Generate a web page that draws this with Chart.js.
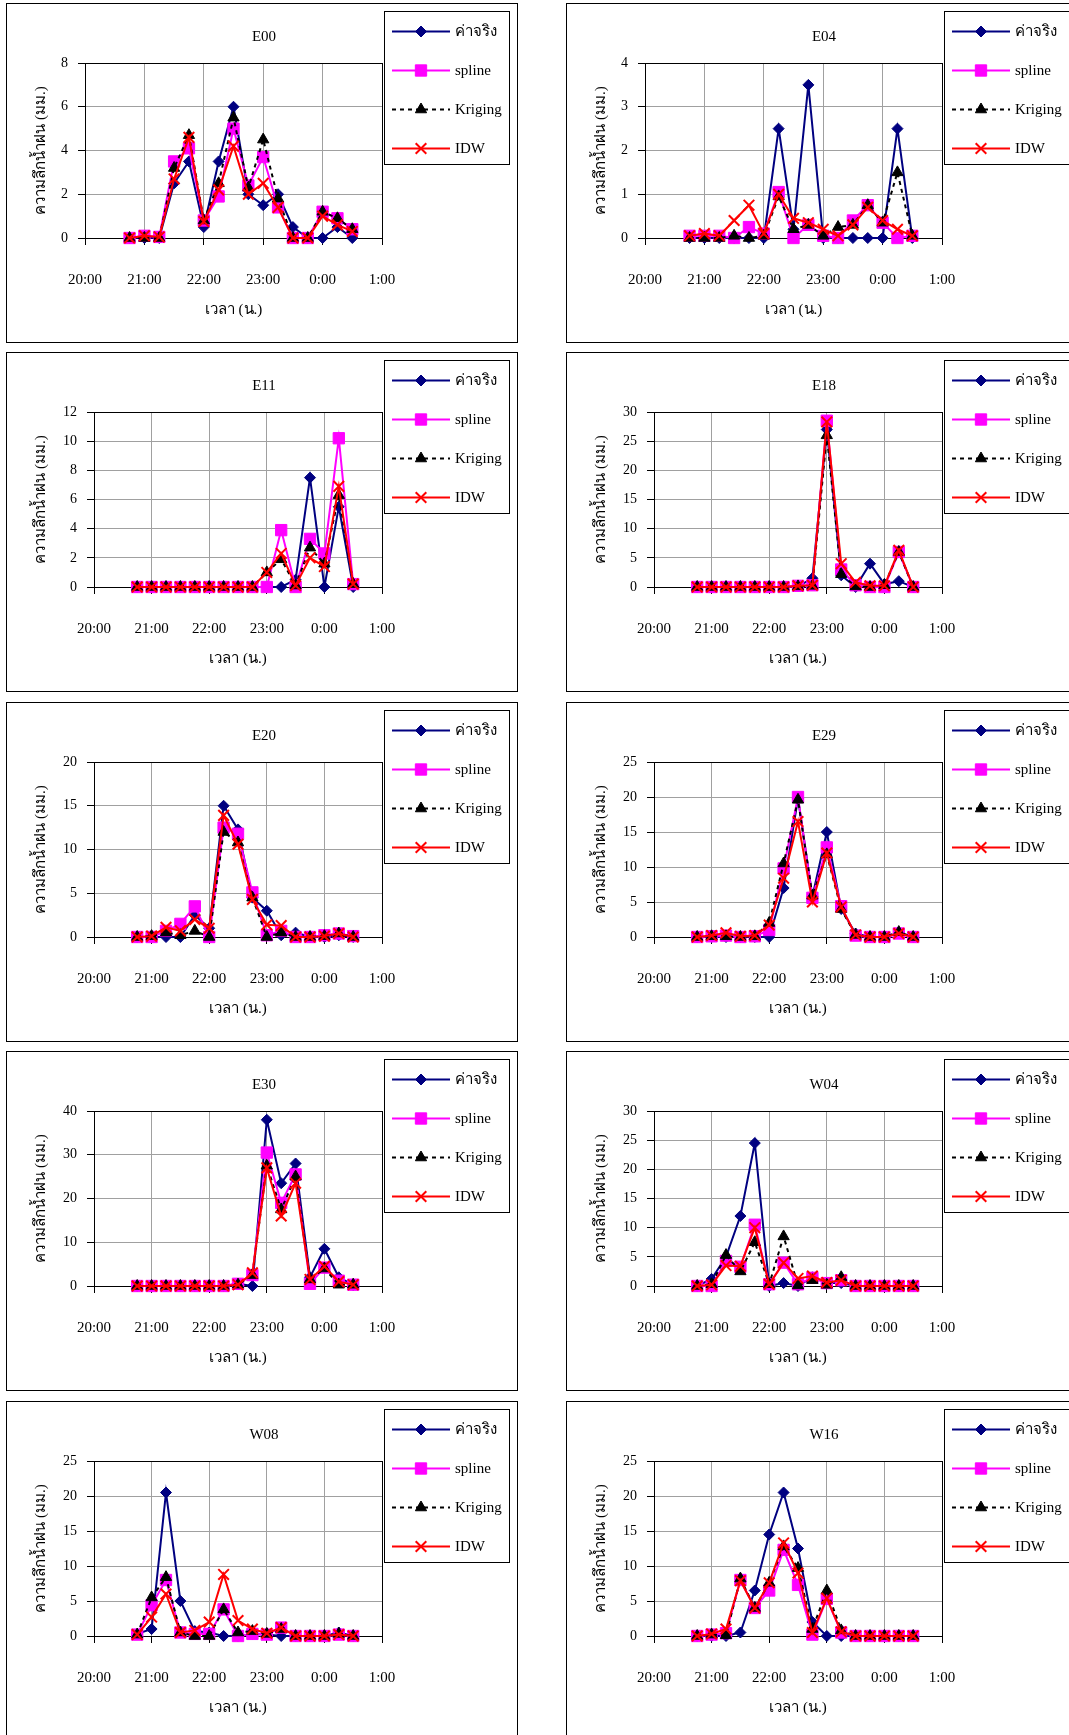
<!DOCTYPE html>
<html>
<head>
<meta charset="utf-8">
<script src="https://cdn.jsdelivr.net/npm/chart.js@4.4.0/dist/chart.umd.min.js"></script>
<style>
html, body { margin: 0; padding: 0; background: #fff; }
body { width: 1069px; height: 1735px; position: relative; overflow: hidden; }
.panel { position: absolute; width: 512px; height: 340px; border: 1px solid #000; box-sizing: border-box; background: #fff; }
.panel canvas { display: block; }
</style>
</head>
<body>
<script>
// เวลา (ทุก 15 นาที) และป้ายแกน x
const times = ['20:45','21:00','21:15','21:30','21:45','22:00','22:15','22:30','22:45','23:00','23:15','23:30','23:45','0:00','0:15','0:30']
const hourLabels = ['20:00','21:00','22:00','23:00','0:00','1:00']
const seriesNames = ['ค่าจริง','spline','Kriging','IDW']
const stationNames = ['E00','E04','E11','E18','E20','E29','E30','W04','W08','W16']
const yMaxes = [8, 4, 12, 30, 20, 25, 40, 30, 25, 25]
const ySteps = [2, 1, 2, 5, 5, 5, 10, 5, 5, 5]

// E00
const e00Obs    = [0,0,0,2.5,3.5,0.5,3.5,6,2,1.5,2,0.5,0,0,0.5,0]
const e00Spline = [0,0.1,0.05,3.5,4.1,0.8,1.9,5,2.4,3.7,1.4,0,0,1.2,0.9,0.4]
const e00Krig   = [0,0,0,3.2,4.7,0.8,2.5,5.5,2.3,4.5,1.8,0,0,1.2,0.9,0.4]
const e00Idw    = [0,0.1,0.05,2.7,4.6,0.75,2.2,4.2,2,2.5,1.4,0,0,1,0.6,0.3]
// E04
const e04Obs    = [0,0,0,0,0,0,2.5,0.2,3.5,0,0,0,0,0,2.5,0]
const e04Spline = [0.05,0.05,0.05,0,0.25,0.1,1.05,0,0.3,0.05,0,0.4,0.75,0.35,0,0.05]
const e04Krig   = [0,0,0,0.05,0,0.05,0.95,0.2,0.3,0.05,0.25,0.3,0.75,0.35,1.5,0.05]
const e04Idw    = [0.05,0.1,0.05,0.4,0.75,0.1,1,0.45,0.35,0.2,0.05,0.3,0.7,0.4,0.2,0.05]
// E11
const e11Obs    = [0,0,0,0,0,0,0,0,0,0,0,0.5,7.5,0,5.5,0]
const e11Spline = [0,0,0,0,0,0,0,0,0,0,3.9,0,3.3,2.3,10.2,0.2]
const e11Krig   = [0,0,0,0,0,0,0,0,0,1,1.9,0.1,2.7,1.6,6.3,0.2]
const e11Idw    = [0,0,0,0,0,0,0,0,0,1,2.3,0.1,2,1.4,6.9,0.2]
// E18
const e18Obs    = [0,0,0,0,0,0,0,0.1,1.5,27,2,0,4,0.5,1,0]
const e18Spline = [0,0,0,0,0,0,0,0.2,0.3,28.5,3,0.3,0,0,6,0]
const e18Krig   = [0,0,0,0,0,0,0,0.1,0.2,26,2.2,0.1,0,0.3,6,0]
const e18Idw    = [0,0,0,0,0,0,0,0.2,0.3,28.3,4,0.8,0.2,0.2,6.3,0]
// E20
const e20Obs    = [0,0,0,0,2.5,1,15,12.3,4.5,3,0.2,0.5,0,0,0.2,0]
const e20Spline = [0,0,0.7,1.5,3.5,0,12.5,11.8,5.1,0.2,0.7,0,0,0.2,0.4,0.1]
const e20Krig   = [0,0.1,0.5,0.2,0.7,0,12,10.8,4.5,0,0.5,0,0,0.1,0.4,0]
const e20Idw    = [0,0.1,1.1,0.7,2,1,13.9,10.6,4.3,1.4,1.3,0,0,0.1,0.4,0]
// E29
const e29Obs    = [0,0,0,0,0,0,7,19.8,5.8,15,4,0.5,0,0,0.5,0]
const e29Spline = [0,0.1,0.2,0,0.1,1,9.8,20,5.6,12.8,4.4,0.2,0,0,0.5,0]
const e29Krig   = [0,0.1,0.1,0,0.1,2,10.5,19.6,5.9,11.8,4,0.3,0,0,0.7,0]
const e29Idw    = [0,0.2,0.6,0.1,0.2,1.7,8.4,16.5,5,12,4.3,0.3,0,0,0.5,0]
// E30
const e30Obs    = [0,0,0,0,0,0,0,0.5,0,38,23.5,28,2,8.5,2,0.2]
const e30Spline = [0,0,0,0,0,0,0,0.5,2.5,30.5,19,25.5,0.5,4.2,1.2,0.3]
const e30Krig   = [0,0,0,0,0,0,0,0.3,2.5,27.5,17.5,25,1.5,4,0.3,0.3]
const e30Idw    = [0,0,0,0,0,0,0,0.3,3,27,16,23.5,1.5,4.5,1,0.3]
// W04
const w04Obs    = [0,1.2,5,12,24.5,0,0.5,0,1.5,0.5,0.5,0,0,0,0,0]
const w04Spline = [0,0,4.3,3.3,10.5,0.3,4,0.3,1.4,0.5,1,0,0,0,0,0]
const w04Krig   = [0,0.3,5.3,2.5,7.5,0.3,8.5,0.1,1,0.2,1.5,0,0,0,0,0]
const w04Idw    = [0,0.2,3.5,3.4,10,0.3,4,1.3,1.7,0.6,1,0,0,0,0,0]
// W08
const w08Obs    = [0.3,1,20.5,5,0.7,0.5,0,0,0.3,0.2,0,0,0,0,0.5,0]
const w08Spline = [0.2,4.4,8,0.5,0.3,0.3,3.8,0,0.3,0.2,1.2,0,0,0,0.2,0]
const w08Krig   = [0.2,5.5,8.4,0.5,0,0,3.8,0.5,0.7,0.3,1,0,0,0,0.3,0]
const w08Idw    = [0.2,2.7,6,0.5,0.8,2,8.8,2.2,1,0.4,1.2,0,0,0,0.2,0]
// W16
const w16Obs    = [0,0,0,0.5,6.5,14.5,20.5,12.5,2,0,0,0,0,0,0,0]
const w16Spline = [0,0.2,0.4,8,4,6.5,12.3,7.3,0.2,5.3,0.5,0,0,0,0,0]
const w16Krig   = [0,0.2,0.1,8.2,4,7.6,12.8,9.7,1,6.5,0.8,0,0,0,0,0]
const w16Idw    = [0,0.3,1,7.9,4,7.6,13.3,9,0.5,5.4,0.6,0,0,0,0,0]

const stationData = [
	[e00Obs, e00Spline, e00Krig, e00Idw],
	[e04Obs, e04Spline, e04Krig, e04Idw],
	[e11Obs, e11Spline, e11Krig, e11Idw],
	[e18Obs, e18Spline, e18Krig, e18Idw],
	[e20Obs, e20Spline, e20Krig, e20Idw],
	[e29Obs, e29Spline, e29Krig, e29Idw],
	[e30Obs, e30Spline, e30Krig, e30Idw],
	[w04Obs, w04Spline, w04Krig, w04Idw],
	[w08Obs, w08Spline, w08Krig, w08Idw],
	[w16Obs, w16Spline, w16Krig, w16Idw]
]

//Estilos de las series
const seriesColors = ['#000080', '#FF00FF', '#000000', '#FF0000']
const seriesMarkers = ['rectRot', 'rect', 'triangle', 'crossRot']
const markerRadius = [5.5, 8, 6.5, 7.5]
const serif = "'Liberation Serif', 'Times New Roman', 'DejaVu Serif', serif"

const colLeft = [6, 566]
const rowTop = [3, 352, 702, 1051, 1401]

// horas desde las 20:00
const hours = times.map(t => {
	let [h, m] = t.split(':').map(Number)
	if (h < 12) h += 24
	return h - 20 + m / 60
})

const panelDeco = {
	id: 'panelDeco',
	beforeDatasetsDraw(chart) {
		const {ctx, chartArea: a} = chart
		ctx.save()
		ctx.strokeStyle = '#000'
		ctx.lineWidth = 1
		ctx.strokeRect(Math.round(a.left) + 0.5, Math.round(a.top) + 0.5, Math.round(a.right - a.left), Math.round(a.bottom - a.top))
		ctx.restore()
	},
	afterDraw(chart, args, opts) {
		const ctx = chart.ctx
		ctx.save()
		ctx.fillStyle = '#000'
		ctx.font = '15px ' + serif
		ctx.textAlign = 'center'
		ctx.textBaseline = 'middle'
		ctx.fillText(opts.title, 257, 33)

		// leyenda con recuadro
		ctx.strokeStyle = '#000'
		ctx.lineWidth = 1
		ctx.strokeRect(377.5, 7.5, 125, 153)
		ctx.textAlign = 'left'
		chart.data.datasets.forEach((ds, k) => {
			const y = 27.5 + k * 39
			ctx.save()
			ctx.strokeStyle = ds.borderColor
			ctx.lineWidth = 2
			ctx.setLineDash(ds.borderDash || [])
			ctx.beginPath()
			ctx.moveTo(385, y)
			ctx.lineTo(443, y)
			ctx.stroke()
			ctx.setLineDash([])
			ctx.fillStyle = ds.pointBackgroundColor
			ctx.strokeStyle = ds.pointBorderColor
			ctx.lineWidth = ds.pointBorderWidth
			Chart.helpers.drawPoint(ctx, {pointStyle: ds.pointStyle, radius: ds.pointRadius, rotation: 0, borderWidth: ds.pointBorderWidth}, 414, y)
			ctx.restore()
			ctx.fillStyle = '#000'
			ctx.fillText(ds.label, 448, y + 1)
		})
		ctx.restore()
	}
}

const makePanel = (idx) => {
	const col = idx % 2
	const row = Math.floor(idx / 2)
	const box = document.createElement('div')
	box.className = 'panel'
	box.style.left = colLeft[col] + 'px'
	box.style.top = rowTop[row] + 'px'
	const cv = document.createElement('canvas')
	cv.width = 510
	cv.height = 338
	box.appendChild(cv)
	document.body.appendChild(box)

	// las etiquetas de dos cifras empujan el área de trazado
	const yAxisWidth = yMaxes[idx] >= 10 ? 87 : 78

	const datasets = stationData[idx].map((vals, k) => ({
		label: seriesNames[k],
		data: vals.map((v, i) => ({x: hours[i], y: v})),
		borderColor: seriesColors[k],
		backgroundColor: seriesColors[k],
		pointBackgroundColor: seriesColors[k],
		pointBorderColor: seriesColors[k],
		pointStyle: seriesMarkers[k],
		pointRadius: markerRadius[k],
		pointBorderWidth: k === 3 ? 2 : 1,
		borderWidth: 2,
		borderDash: k === 2 ? [4, 4] : [],
		tension: 0,
		clip: false,
		order: 4 - k
	}))

	new Chart(cv, {
		type: 'line',
		data: { datasets: datasets },
		options: {
			responsive: false,
			animation: false,
			devicePixelRatio: 1,
			events: [],
			layout: { padding: { left: 0, top: 59, right: 135, bottom: 0 } },
			plugins: {
				legend: { display: false },
				tooltip: { enabled: false },
				panelDeco: { title: stationNames[idx] }
			},
			scales: {
				x: {
					type: 'linear',
					min: 0,
					max: 5,
					afterFit: s => { s.height = 104 },
					ticks: { stepSize: 1, padding: 26, color: '#000', font: { family: serif, size: 15 }, maxRotation: 0,
						callback: v => hourLabels[v] },
					grid: { color: '#a0a0a0', tickColor: '#000', tickLength: 7 },
					border: { color: '#000', width: 1 },
					title: { display: true, text: 'เวลา (น.)', color: '#000', font: { family: serif, size: 15 },
						padding: { top: 0, bottom: 23 } }
				},
				y: {
					min: 0,
					max: yMaxes[idx],
					afterFit: s => { s.width = yAxisWidth },
					ticks: { stepSize: ySteps[idx], padding: 10, color: '#000', font: { family: serif, size: 14 } },
					grid: { color: '#a0a0a0', tickColor: '#000', tickLength: 7 },
					border: { color: '#000', width: 1 },
					title: { display: true, text: 'ความลึกน้ำฝน (มม.)', color: '#000', font: { family: serif, size: 15 },
						padding: { top: 25, bottom: 0 } }
				}
			}
		},
		plugins: [panelDeco]
	})
}

stationNames.forEach((n, i) => makePanel(i))
</script>
</body>
</html>
